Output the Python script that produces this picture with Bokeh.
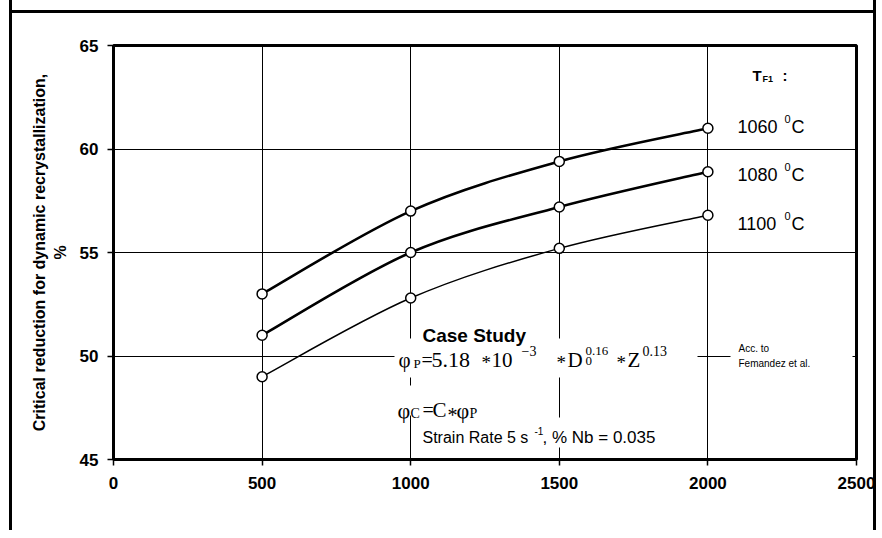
from bokeh.plotting import figure
from bokeh.models import Label, BoxAnnotation, FixedTicker, Range1d
from bokeh.embed import file_html
from bokeh.resources import INLINE

# ---- data ----
grain_size = [500, 1000, 1500, 2000]
crit_1060 = [53.0, 57.0, 59.4, 61.0]
crit_1080 = [51.0, 55.0, 57.2, 58.9]
crit_1100 = [49.0, 52.8, 55.2, 56.8]
x_ticks = [0, 500, 1000, 1500, 2000, 2500]
y_ticks = [45, 50, 55, 60, 65]

W, H = 876, 530
BL, BT = 113, 45
FW, FH = 743, 414
BR, BB = W - BL - FW, H - BT - FH
X0, X1, Y0, Y1 = 0, 2500, 45, 65

p = figure(width=W, height=H, x_range=Range1d(X0, X1), y_range=Range1d(Y0, Y1),
           output_backend="svg", toolbar_location=None,
           min_border_left=BL, min_border_right=BR, min_border_top=BT, min_border_bottom=BB)
p.border_fill_color = None
p.background_fill_color = "white"
p.outline_line_color = "black"
p.outline_line_width = 3
p.styles = {"box-shadow": "inset 9px 0 0 0 white, inset 12px 0 0 0 black, inset -3px 0 0 0 black, "
                          "inset 0 -12px 0 0 white, inset 9px 10px 0 0 white, inset 12px 13px 0 0 black"}

# grids
p.xgrid.ticker = FixedTicker(ticks=x_ticks)
p.ygrid.ticker = FixedTicker(ticks=y_ticks)
for g in (p.xgrid, p.ygrid):
    g.grid_line_color = "black"
    g.grid_line_width = 1
    g.grid_line_alpha = 1

# axes
p.xaxis.ticker = FixedTicker(ticks=x_ticks)
p.yaxis.ticker = FixedTicker(ticks=y_ticks)
for ax in (p.xaxis[0], p.yaxis[0]):
    ax.axis_line_color = None
    ax.major_tick_line_color = "black"
    ax.major_tick_line_width = 1.5
    ax.major_tick_out = 6
    ax.major_tick_in = 0
    ax.minor_tick_line_color = None
    ax.major_label_text_font = "Liberation Sans"
    ax.major_label_text_font_style = "bold"
    ax.major_label_text_font_size = "17px"
    ax.major_label_text_color = "black"
p.xaxis.major_label_standoff = 11
p.yaxis.major_label_standoff = 9
p.yaxis.axis_label = "Critical reduction for dynamic recrystallization,\n%"
p.yaxis.axis_label_text_font = "Liberation Sans"
p.yaxis.axis_label_text_font_style = "bold"
p.yaxis.axis_label_text_font_size = "16px"
p.yaxis.axis_label_text_color = "black"
p.yaxis.axis_label_standoff = 8


def dx(px):
    return X0 + (px - BL) / FW * (X1 - X0)


def dy(py):
    return Y0 + (BT + FH - py) / FH * (Y1 - Y0)


def box(l, r, t, b):
    p.add_layout(BoxAnnotation(left=dx(l), right=dx(r), top=dy(t), bottom=dy(b),
                               fill_color="white", fill_alpha=1, line_color=None))


def txt(px, py, s, size, font="Liberation Sans", style="normal", baseline="alphabetic", align="left"):
    p.add_layout(Label(x=dx(px), y=dy(py), text=s, text_font=font, text_font_size=f"{size}px",
                       text_font_style=style, text_baseline=baseline, text_align=align,
                       text_color="black"))


# white text boxes that mask the grid
box(394, 697, 338, 377)
box(394, 505, 385, 415)
box(418, 668, 417, 447)
box(730, 852, 336, 372)


def smooth(xs, ys, width):
    n = len(xs)
    x0, y0, x1, y1, cx0, cy0, cx1, cy1 = [], [], [], [], [], [], [], []
    for i in range(n - 1):
        im, ip = max(i - 1, 0), min(i + 2, n - 1)
        x0.append(xs[i]); y0.append(ys[i]); x1.append(xs[i + 1]); y1.append(ys[i + 1])
        cx0.append(xs[i] + (xs[i + 1] - xs[im]) / 6); cy0.append(ys[i] + (ys[i + 1] - ys[im]) / 6)
        cx1.append(xs[i + 1] - (xs[ip] - xs[i]) / 6); cy1.append(ys[i + 1] - (ys[ip] - ys[i]) / 6)
    p.bezier(x0=x0, y0=y0, x1=x1, y1=y1, cx0=cx0, cy0=cy0, cx1=cx1, cy1=cy1,
             line_color="black", line_width=width)
    p.scatter(xs, ys, marker="circle", size=10, fill_color="white", line_color="black", line_width=1.5)


smooth(grain_size, crit_1060, 2.6)
smooth(grain_size, crit_1080, 2.6)
smooth(grain_size, crit_1100, 1.5)

# legend-like labels
txt(752, 75, "T", 15, style="bold")
txt(762, 78, "F1", 9, style="bold")
txt(782, 75, ":", 15, style="bold")
for lbl, base in (("1060", 126), ("1080", 174), ("1100", 223)):
    txt(737, base, lbl, 18)
    txt(784, base - 8, "0", 11)
    txt(791, base, "C", 18)

# annotations
txt(422, 335, "Case Study", 19, style="bold")
serif = "Liberation Serif"
txt(398, 359, "φ", 21, font=serif)
txt(413, 363, "P", 13, font=serif)
txt(421, 359, "=", 20, font=serif)
txt(431, 359, "5.18", 22, font=serif)
txt(481, 362, "*", 19, font=serif)
txt(491, 359, "10", 21, font=serif)
txt(521, 350, "−3", 14, font=serif)
txt(556, 362, "*", 19, font=serif)
txt(567, 359, "D", 21, font=serif)
txt(585, 350, "0.16", 13, font=serif)
txt(585, 360, "0", 13, font=serif)
txt(616, 362, "*", 19, font=serif)
txt(627, 359, "Z", 21, font=serif)
txt(642, 350, "0.13", 14, font=serif)

txt(397, 410, "φ", 22, font=serif)
txt(410, 413, "C", 14, font=serif)
txt(422, 409, "=", 20, font=serif)
txt(432, 409, "C", 21, font=serif)
txt(447, 414, "*", 20, font=serif)
txt(456, 410, "φ", 22, font=serif)
txt(469, 413, "P", 14, font=serif)

txt(738, 348, "Acc. to", 10)
txt(738, 363, "Femandez et al.", 10)

txt(422, 437, "Strain Rate 5 s", 16)
txt(534, 430, "-1", 10)
txt(542, 437, ", % Nb = 0.035", 17)

txt(845, 505, "Grain size, µm", 16, style="bold", baseline="middle", align="right")

open("out.html", "w").write(file_html(p, INLINE))
